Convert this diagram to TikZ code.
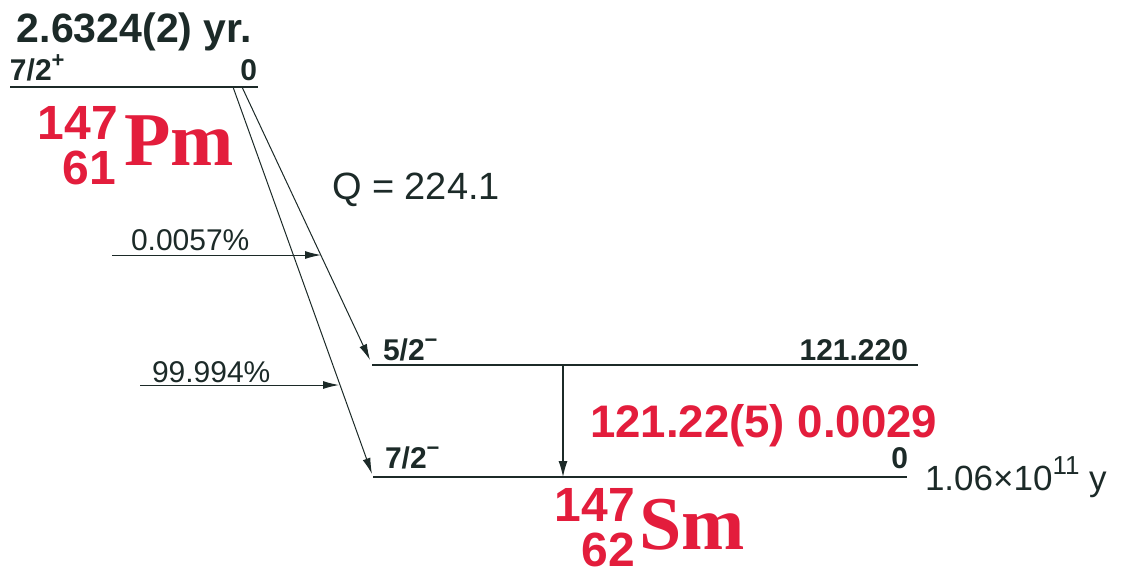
\documentclass[tikz,border=0pt]{standalone}
\usepackage{fontspec}
\setmainfont{Liberation Sans}
\newfontfamily\elemfont{Liberation Serif}
\usetikzlibrary{arrows.meta}
\definecolor{levelInk}{HTML}{1C2A28}
\definecolor{nuclRed}{HTML}{E31D3C}

\newcommand{\spinsign}[1]{\raisebox{0.42em}{\fontsize{11}{11}\selectfont #1}}

\tikzset{
  level/.style={line width=1pt},
  decay/.style={line width=0.5pt, -{Latex[length=8pt,width=4pt]}},
  gammaline/.style={line width=0.6pt, -{Latex[length=8pt,width=4.5pt]}},
  txt/.style={inner sep=0pt, outer sep=0pt},
  lvltxt/.style={txt, font=\fontsize{15}{15}\selectfont\bfseries},
  pcttxt/.style={txt, font=\fontsize{15}{15}\selectfont},
  massno/.style={txt, text=nuclRed, font=\fontsize{24}{24}\selectfont\bfseries},
  elemtxt/.style={txt, text=nuclRed, font=\fontsize{38}{38}\selectfont\elemfont\bfseries},
}

\begin{document}
\begin{tikzpicture}[x=0.5pt, y=-0.5pt, color=levelInk, >=Latex]
    \useasboundingbox (0,0) rectangle (1123,578);

    % half-life of the parent
    \node[txt, anchor=base west, font=\fontsize{20.5}{20.5}\selectfont\bfseries] (pmHalf) at (17,42) {2.6324(2) yr.};

    % parent level
    \coordinate (pmL) at (10,87);
    \coordinate (pmR) at (258,87);
    \draw[level] (pmL) -- (pmR);
    \node[lvltxt, anchor=base west] (pmSpin) at (10,80) {7/2\spinsign{+}};
    \node[lvltxt, anchor=base east] (pmEn) at (257,80) {0};

    % parent nuclide
    \node[massno, anchor=base east] (pmA) at (118,139) {147};
    \node[massno, anchor=base east] (pmZ) at (116,184) {61};
    \node[elemtxt, anchor=base west] (pmSym) at (124,165) {Pm};

    % Q value
    \node[txt, anchor=base west, font=\fontsize{19}{19}\selectfont] (qVal) at (332,199) {Q = 224.1};

    % daughter levels
    \coordinate (exL) at (372,365);
    \coordinate (exR) at (918,365);
    \coordinate (gsL) at (373,477);
    \coordinate (gsR) at (907,477);
    \draw[level] (exL) -- (exR);
    \draw[level] (gsL) -- (gsR);
    \node[lvltxt, anchor=base west] (exSpin) at (383,360) {5/2\spinsign{−}};
    \node[lvltxt, anchor=base east] (exEn) at (908,360) {121.220};
    \node[lvltxt, anchor=base west] (gsSpin) at (385,468) {7/2\spinsign{−}};
    \node[lvltxt, anchor=base east] (gsEn) at (908,468) {0};

    % beta branches
    \coordinate (bExTop) at (242,87);
    \coordinate (bGsTop) at (233,87);
    \coordinate (bExTip) at (370,360);
    \coordinate (bGsTip) at (372,474);
    \draw[decay] (bExTop) -- (bExTip);
    \draw[decay] (bGsTop) -- (bGsTip);

    % branching ratios
    \coordinate (fExL) at (112,255);
    \coordinate (fExR) at (321,255);
    \coordinate (fGsL) at (140,385);
    \coordinate (fGsR) at (339,385);
    \draw[decay] (fExL) -- (fExR);
    \draw[decay] (fGsL) -- (fGsR);
    \node[pcttxt, anchor=base west] (fExPct) at (131,250) {0.0057\%};
    \node[pcttxt, anchor=base west] (fGsPct) at (152,382) {99.994\%};

    % gamma transition
    \coordinate (gTop) at (563,365);
    \coordinate (gBot) at (563,477);
    \draw[gammaline] (gTop) -- (gBot);
    \node[txt, anchor=base west, text=nuclRed, font=\fontsize{22.8}{22.8}\selectfont\bfseries] (gLbl) at (590,437) {121.22(5) 0.0029};

    % half-life of the daughter
    \node[txt, anchor=base west, font=\fontsize{17.5}{17.5}\selectfont] (smHalf) at (925,490) {1.06×10\raisebox{0.45em}{\fontsize{13}{13}\selectfont 11} y};

    % daughter nuclide
    \node[massno, anchor=base east] (smA) at (635,521) {147};
    \node[massno, anchor=base east] (smZ) at (635,566) {62};
    \node[elemtxt, anchor=base west] (smSym) at (639,549) {Sm};

\end{tikzpicture}
\end{document}
